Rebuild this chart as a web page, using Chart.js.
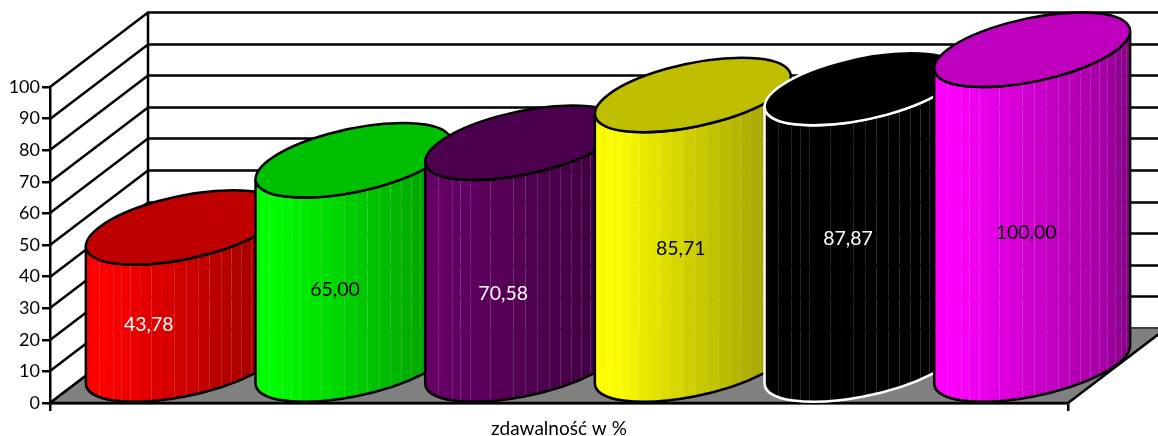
<!DOCTYPE html>
<html>
<head>
<meta charset="utf-8">
<style>html,body{margin:0;padding:0;background:#fff}canvas{display:block}</style>
<script src="https://cdn.jsdelivr.net/npm/chart.js@4"></script>
</head>
<body>
<canvas id="c" width="1158" height="436"></canvas>
<script>
const categories = ['zdawalność w %'];
const seriesNames = ['A', 'B', 'C', 'D', 'E', 'F'];
const seriesValues = [43.78, 65.00, 70.58, 85.71, 87.87, 100.00];
const tickStep = 10;
const axisMax = 100;

const fillColors = ['#ff0000', '#00ff00', '#660066', '#ffff00', '#000000', '#ff00ff'];
const edgeColors = ['#000000', '#000000', '#000000', '#000000', '#ffffff', '#000000'];
const labelColors = ['#ffffff', '#000000', '#ffffff', '#000000', '#ffffff', '#000000'];
const labelShiftX = [14, 30.5, 29, 37, 34.5, 43];
const labelShiftY = [-8, -10, 3, -18, -25, -11.5];

const DEPTH_X = 98, DEPTH_Y = 74.5;
const LINE = 2.5;
const FONT = 'Lato, "Open Sans", sans-serif';

function shade(hex, f) {
  const n = parseInt(hex.slice(1), 16);
  const c = [(n >> 16) & 255, (n >> 8) & 255, n & 255].map(v => Math.round(v * f));
  return `rgb(${c[0]},${c[1]},${c[2]})`;
}
function brightness(u) {
  const p = [[0, 1], [0.08, 1], [0.5, 0.8], [0.87, 0.65], [1, 0.5]];
  for (let i = 1; i < p.length; i++) {
    if (u <= p[i][0]) {
      const k = (u - p[i - 1][0]) / (p[i][0] - p[i - 1][0]);
      return p[i - 1][1] + k * (p[i][1] - p[i - 1][1]);
    }
  }
  return 0.5;
}

function drawCylinder(ctx, chart, el, ds, i) {
  const yScale = chart.scales.y;
  const U = el.width / 2, Vx = DEPTH_X / 2, Vy = -DEPTH_Y / 2;
  const cx = el.x + Vx, top = el.y + Vy, bot = el.base + Vy;
  const R = Math.hypot(U, Vx), phi = Math.atan2(Vx, U);
  const arcAt = (cy, a, b, ccw) => {
    ctx.save();
    ctx.transform(U, 0, Vx, Vy, cx, cy);
    ctx.arc(0, 0, 1, a, b, ccw);
    ctx.restore();
  };
  const body = () => {
    ctx.beginPath();
    arcAt(bot, phi + Math.PI, phi + 2 * Math.PI, false);
    arcAt(top, phi + 2 * Math.PI, phi + Math.PI, true);
    ctx.closePath();
  };
  const base = ds.backgroundColor;

  ctx.save();
  body();
  ctx.clip();
  const step = Math.PI / 26;
  const edges = [];
  for (let k = 0; k <= 26; k++) edges.push(cx + 2 - R * Math.cos(k * step));
  edges[0] = cx - R - 2; edges[26] = cx + R + 2;
  for (let k = 0; k < 26; k++) {
    const mid = (edges[k] + edges[k + 1]) / 2;
    ctx.fillStyle = shade(base, brightness((mid - (cx - R)) / (2 * R)));
    ctx.fillRect(edges[k], top - 60, edges[k + 1] - edges[k] + 0.5, bot - top + 130);
  }
  ctx.strokeStyle = 'rgba(255,255,255,0.15)';
  ctx.lineWidth = 1;
  for (let k = 4; k < 24; k++) {
    if (k === 9 || k === 5 || k === 11) continue;
    const x = Math.round(edges[k]) + 0.5;
    ctx.beginPath();
    let y0 = bot + 60;
    for (let v = 0; v <= axisMax; v += tickStep) {
      const y = yScale.getPixelForValue(v) - DEPTH_Y;
      ctx.moveTo(x, y0);
      ctx.lineTo(x, y + 1);
      y0 = y - 0.5;
    }
    ctx.moveTo(x, y0); ctx.lineTo(x, 0);
    ctx.stroke();
  }
  ctx.restore();

  ctx.strokeStyle = ds.borderColor;
  ctx.lineWidth = LINE;
  body();
  ctx.stroke();

  ctx.beginPath();
  arcAt(top, 0, 2 * Math.PI, false);
  ctx.closePath();
  ctx.fillStyle = shade(base, 0.75);
  ctx.fill();
  ctx.stroke();

  ctx.font = '19.5px ' + FONT;
  ctx.textAlign = 'center';
  ctx.textBaseline = 'middle';
  ctx.fillStyle = labelColors[i];
  ctx.fillText(seriesValues[i].toFixed(2).replace('.', ','),
    el.x + labelShiftX[i], (el.y + el.base) / 2 + labelShiftY[i]);
}

const cylinder3d = {
  id: 'cylinder3d',
  beforeDatasetsDraw(chart) {
    const { ctx, chartArea: a, scales: { y } } = chart;
    ctx.save();
    ctx.strokeStyle = '#000';
    ctx.lineWidth = LINE;
    const y0 = y.getPixelForValue(0);
    ctx.beginPath();
    for (let v = 0; v <= axisMax; v += tickStep) {
      const py = Math.round(y.getPixelForValue(v));
      ctx.moveTo(a.left, py);
      ctx.lineTo(a.left + DEPTH_X, py - DEPTH_Y);
      ctx.lineTo(a.right + DEPTH_X, py - DEPTH_Y);
    }
    ctx.moveTo(a.left + DEPTH_X, Math.round(y.getPixelForValue(axisMax)) - DEPTH_Y);
    ctx.lineTo(a.left + DEPTH_X, y0 - DEPTH_Y);
    ctx.stroke();
    ctx.beginPath();
    ctx.moveTo(a.left, y0);
    ctx.lineTo(a.right, y0);
    ctx.lineTo(a.right + DEPTH_X, y0 - DEPTH_Y);
    ctx.lineTo(a.left + DEPTH_X, y0 - DEPTH_Y);
    ctx.closePath();
    ctx.fillStyle = '#808080';
    ctx.fill();
    ctx.beginPath();
    ctx.moveTo(a.left + DEPTH_X, y0 - DEPTH_Y);
    ctx.lineTo(a.left, y0);
    ctx.lineTo(a.right, y0);
    ctx.lineTo(a.right + DEPTH_X, y0 - DEPTH_Y);
    ctx.stroke();
    ctx.restore();
  },
  beforeDatasetDraw() { return false; },
  afterDatasetsDraw(chart) {
    const ctx = chart.ctx;
    ctx.save();
    chart.data.datasets.forEach((ds, i) => {
      drawCylinder(ctx, chart, chart.getDatasetMeta(i).data[0], ds, i);
    });
    ctx.restore();
  }
};

new Chart(document.getElementById('c'), {
  type: 'bar',
  data: {
    labels: categories,
    datasets: seriesNames.map((name, i) => ({
      label: name,
      data: [seriesValues[i]],
      backgroundColor: fillColors[i],
      borderColor: edgeColors[i],
      barPercentage: 1,
      categoryPercentage: 1
    }))
  },
  plugins: [cylinder3d],
  options: {
    responsive: false,
    animation: false,
    layout: { padding: { left: 0, top: 87, right: 90, bottom: 0 } },
    plugins: { legend: { display: false }, tooltip: { enabled: false }, title: { display: false } },
    scales: {
      x: {
        afterFit: s => { s.height = 33; },
        grid: { drawOnChartArea: false, color: '#000', lineWidth: LINE, tickLength: 8 },
        border: { color: '#000', width: LINE },
        ticks: { color: '#000', font: { family: FONT, size: 19 }, padding: 6 }
      },
      y: {
        min: 0,
        max: axisMax,
        afterFit: s => { s.width = 50; },
        grid: { drawOnChartArea: false, color: '#000', lineWidth: LINE, tickLength: 8 },
        border: { color: '#000', width: LINE },
        ticks: { stepSize: tickStep, color: '#000', font: { family: FONT, size: 18 }, padding: 2 }
      }
    }
  }
});
</script>
</body>
</html>
